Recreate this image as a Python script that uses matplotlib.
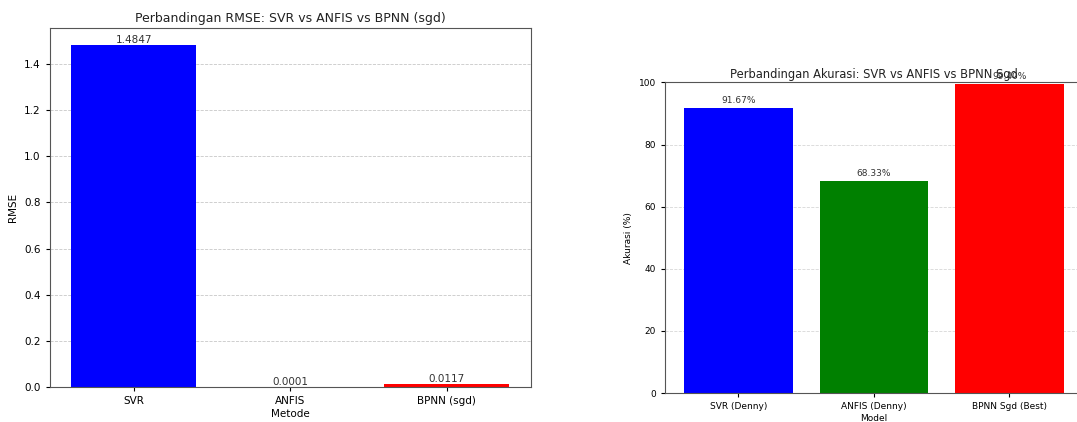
import matplotlib
matplotlib.use("Agg")
import matplotlib.pyplot as plt

# Left chart data
rmse_methods = ["SVR", "ANFIS", "BPNN (sgd)"]
rmse_values = [1.4847, 0.0001, 0.0117]
rmse_colors = ["blue", "green", "red"]

# Right chart data
acc_models = ["SVR (Denny)", "ANFIS (Denny)", "BPNN Sgd (Best)"]
acc_values = [91.67, 68.33, 99.40]
acc_colors = ["blue", "green", "red"]

fig = plt.figure(figsize=(10.77, 4.22), dpi=100)

# ---- Left: RMSE ----
ax1 = fig.add_axes([0.046, 0.0836, 0.447, 0.851])
bars = ax1.bar(rmse_methods, rmse_values, color=rmse_colors)
for b, v in zip(bars, rmse_values):
    ax1.text(b.get_x() + b.get_width() / 2, b.get_height(), f"{v:.4f}",
             ha="center", va="bottom", fontsize=7.5, color="#333333")
ax1.set_title("Perbandingan RMSE: SVR vs ANFIS vs BPNN (sgd)", fontsize=9, pad=4, color="#222222")
ax1.set_xlabel("Metode", fontsize=7.5, labelpad=2)
ax1.set_ylabel("RMSE", fontsize=7.5)
ax1.tick_params(labelsize=7.5, length=3)
ax1.grid(axis="y", linestyle="--", alpha=0.7, linewidth=0.6)
ax1.set_axisbelow(True)
for s in ax1.spines.values():
    s.set_color("#555555")

# ---- Right: Accuracy ----
ax2 = fig.add_axes([0.6175, 0.0687, 0.3878, 0.736])
bars2 = ax2.bar(acc_models, acc_values, color=acc_colors)
for b, v in zip(bars2, acc_values):
    ax2.text(b.get_x() + b.get_width() / 2, b.get_height() + 1, f"{v:.2f}%",
             ha="center", va="bottom", fontsize=6.5, color="#333333")
ax2.set_ylim(0, 100)
ax2.set_title("Perbandingan Akurasi: SVR vs ANFIS vs BPNN Sgd", fontsize=8.3, pad=3, color="#222222")
ax2.set_xlabel("Model", fontsize=6.5, labelpad=2)
ax2.set_ylabel("Akurasi (%)", fontsize=6.5)
ax2.tick_params(labelsize=6.5, length=3)
ax2.grid(axis="y", linestyle="--", alpha=0.5, linewidth=0.6)
ax2.set_axisbelow(True)
for s in ax2.spines.values():
    s.set_color("#555555")

fig.savefig("out.png", dpi=100)
